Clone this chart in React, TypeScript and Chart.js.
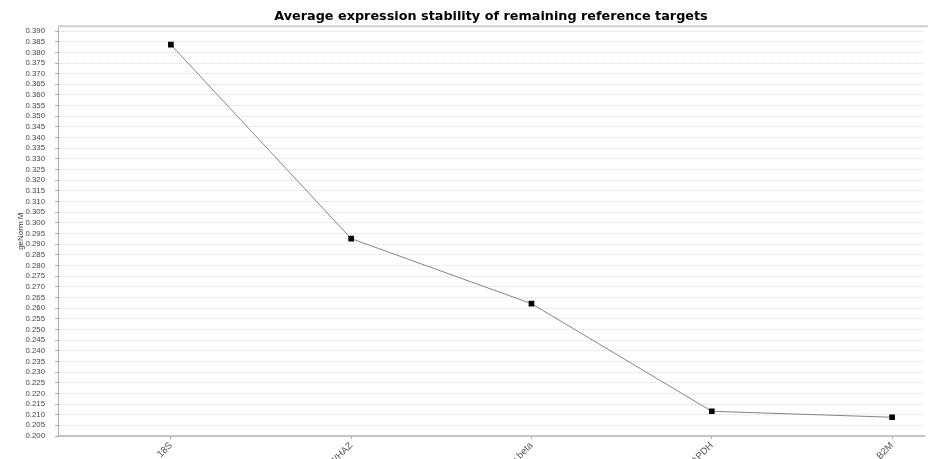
import React, { useEffect, useRef } from 'react';
import { Chart, registerables } from 'chart.js';

Chart.register(...registerables);

const chartTitle = 'Average expression stability of remaining reference targets';
const yAxisTitle = 'geNorm M';
const categories = ['18S', 'YWHAZ', 'Actin beta', 'GAPDH', 'B2M'];
const geNormM = [0.3836, 0.2926, 0.2621, 0.2116, 0.2088];
const yMin = 0.2;
const yMax = 0.3922;
const yStep = 0.005;
const xMin = -0.626;
const xMax = 4.177;

const topBorder = {
  id: 'topBorder',
  beforeDatasetsDraw(chart: any) {
    const { ctx, chartArea } = chart;
    ctx.save();
    ctx.strokeStyle = '#cfcfcf';
    ctx.lineWidth = 2;
    ctx.beginPath();
    ctx.moveTo(chartArea.left, chartArea.top);
    ctx.lineTo(chart.width, chartArea.top);
    ctx.stroke();
    ctx.restore();
  },
};

const whiteBg = {
  id: 'whiteBg',
  beforeDraw(chart: any) {
    const { ctx, width, height } = chart;
    ctx.save();
    ctx.fillStyle = '#ffffff';
    ctx.fillRect(0, 0, width, height);
    ctx.restore();
  },
};

export default function App() {
  const canvasRef = useRef<HTMLCanvasElement | null>(null);

  useEffect(() => {
    if (!canvasRef.current) return;
    const chart = new Chart(canvasRef.current, {
      type: 'line',
      data: {
        datasets: [
          {
            label: yAxisTitle,
            data: geNormM.map((v, i) => ({ x: i, y: v })),
            borderColor: '#858585',
            borderWidth: 1,
            pointStyle: 'rect',
            pointRadius: 4,
            pointBackgroundColor: '#000000',
            pointBorderColor: '#000000',
            pointBorderWidth: 0,
            tension: 0,
            fill: false,
          },
        ],
      },
      options: {
        animation: false,
        responsive: true,
        maintainAspectRatio: false,
        layout: { padding: 0 },
        plugins: {
          legend: { display: false },
          tooltip: { enabled: false },
          title: {
            display: true,
            text: chartTitle,
            fullSize: false,
            color: '#000000',
            font: { family: 'DejaVu Sans', size: 12.8, weight: 'bold' },
            padding: { top: 9, bottom: 2 },
          },
        },
        scales: {
          x: {
            type: 'linear',
            min: xMin,
            max: xMax,
            afterBuildTicks: (scale: any) => {
              scale.ticks = categories.map((_, i) => ({ value: i }));
            },
            afterFit: (scale: any) => {
              scale.height = 23;
              scale.paddingRight = 0;
              scale.paddingLeft = 0;
            },
            ticks: {
              autoSkip: false,
              minRotation: 45,
              maxRotation: 45,
              padding: 1,
              color: '#555555',
              font: { family: 'Liberation Sans', size: 9.5 },
              callback: (v: any) => categories[v as number] ?? '',
            },
            grid: {
              drawOnChartArea: false,
              drawTicks: true,
              tickLength: 3,
              tickColor: '#aaaaaa',
            },
            border: { display: true, color: '#c4c4c4', width: 2 },
          },
          y: {
            type: 'linear',
            min: yMin,
            max: yMax,
            afterFit: (scale: any) => {
              scale.width = 58;
            },
            ticks: {
              stepSize: yStep,
              includeBounds: false,
              autoSkip: false,
              padding: 10,
              color: '#444444',
              font: { family: 'Liberation Sans', size: 7.8 },
              callback: (v: any) => Number(v).toFixed(3),
            },
            grid: {
              color: '#dcdcdc',
              drawTicks: true,
              tickLength: 3,
              tickColor: '#aaaaaa',
            },
            border: { display: true, color: '#b0b0b0', width: 1, dash: [1, 1] },
            title: {
              display: true,
              text: yAxisTitle,
              color: '#333333',
              font: { family: 'Liberation Sans', size: 8 },
              padding: { top: 16, bottom: 0 },
            },
          },
        },
      },
      plugins: [whiteBg, topBorder],
    });
    return () => chart.destroy();
  }, []);

  return (
    <div style={{ position: 'absolute', left: 0, top: 0, width: 928, height: 459 }}>
      <canvas ref={canvasRef} />
    </div>
  );
}
